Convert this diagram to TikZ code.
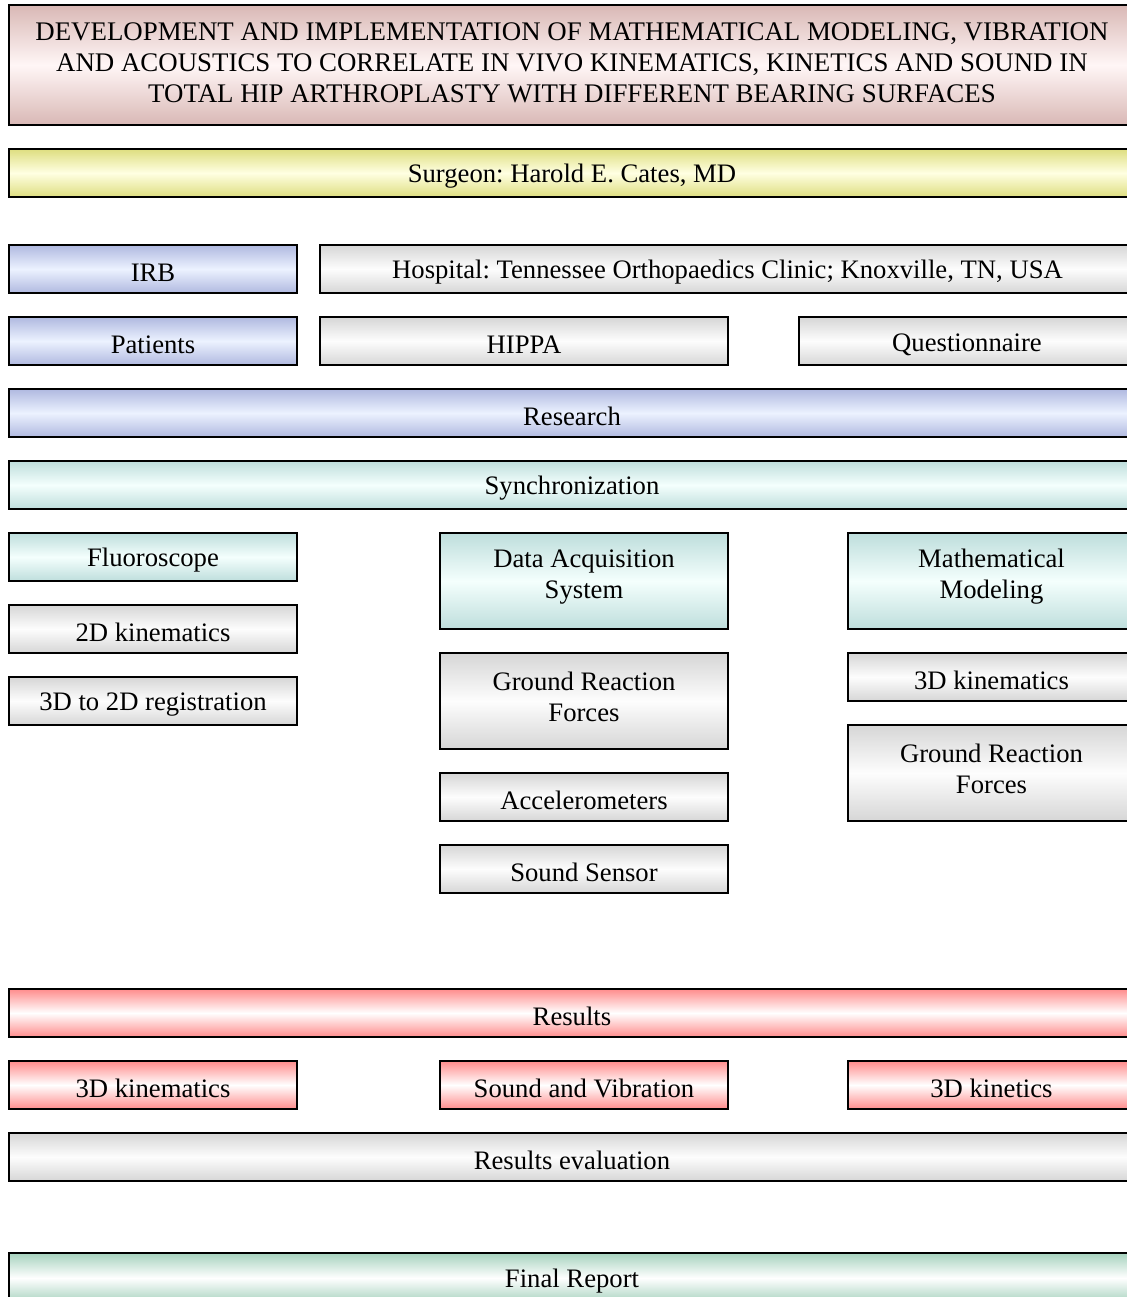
\documentclass[tikz,border=0pt]{standalone}
\usepackage{fontspec}
\setmainfont{Liberation Serif}
\frenchspacing
\definecolor{roseEdge}{RGB}{217,184,181}
\definecolor{roseMid}{RGB}{255,246,246}
\definecolor{yelEdge}{RGB}{222,222,128}
\definecolor{yelMid}{RGB}{255,255,226}
\definecolor{bluEdge}{RGB}{176,185,224}
\definecolor{bluMid}{RGB}{236,242,255}
\definecolor{gryEdge}{RGB}{214,214,214}
\definecolor{gryMid}{RGB}{253,253,253}
\definecolor{tealEdge}{RGB}{190,222,220}
\definecolor{tealMid}{RGB}{244,255,253}
\definecolor{redEdge}{RGB}{255,140,140}
\definecolor{redMid}{RGB}{255,255,255}
\definecolor{grnEdge}{RGB}{166,210,190}
\definecolor{grnMid}{RGB}{255,255,255}
\tikzset{
  box/.style={draw=black, line width=1.5pt, rectangle, inner sep=0pt,
    anchor=north west},
  txt/.style={inner sep=0pt, align=center, font=\fontsize{20}{23.25}\selectfont},
  rose/.style={box, top color=roseEdge, bottom color=roseEdge, middle color=roseMid},
  yel/.style={box, top color=yelEdge, bottom color=yelEdge, middle color=yelMid},
  blu/.style={box, top color=bluEdge, bottom color=bluEdge, middle color=bluMid},
  gry/.style={box, top color=gryEdge, bottom color=gryEdge, middle color=gryMid},
  teal/.style={box, top color=tealEdge, bottom color=tealEdge, middle color=tealMid},
  redb/.style={box, top color=redEdge, bottom color=redEdge, middle color=redMid},
  grn/.style={box, top color=grnEdge, bottom color=grnEdge, middle color=grnMid},
  one/.style={yshift=-2.6pt},
  two/.style={yshift=3pt},
  three/.style={yshift=1.5pt, font=\fontsize{20.15}{23.25}\selectfont},
}
% \pbox{name}{box style}{text style}{x1}{y1}{x2}{y2}{text}, corners in pixel units
\newcommand{\pbox}[8]{%
  \node[#2, minimum width={(#6-#4)*0.75pt}, minimum height={(#7-#5)*0.75pt}]
    (#1) at (#4,#5) {};
  \node[txt, #3] (#1-t) at (#1.center) {#8};}
\begin{document}
\begin{tikzpicture}[x=0.75pt, y=-0.75pt]
\useasboundingbox (0,0) rectangle (1127,1297);
\clip (0,0) rectangle (1127,1297);
\pbox{title}{rose}{three}{8}{4}{1134}{124}{DEVELOPMENT AND IMPLEMENTATION OF MATHEMATICAL MODELING, VIBRATION\\AND ACOUSTICS TO CORRELATE IN VIVO KINEMATICS, KINETICS AND SOUND IN\\TOTAL HIP ARTHROPLASTY WITH DIFFERENT BEARING SURFACES}
\pbox{surgeon}{yel}{one}{8}{148}{1134}{196}{Surgeon: Harold E. Cates, MD}
\pbox{irb}{blu}{one}{8}{244}{296}{292}{IRB}
\pbox{hospital}{gry}{one}{319}{244}{1134}{292}{Hospital: Tennessee Orthopaedics Clinic; Knoxville, TN, USA}
\pbox{patients}{blu}{one}{8}{316}{296}{364}{Patients}
\pbox{hippa}{gry}{one}{319}{316}{727}{364}{HIPPA}
\pbox{quest}{gry}{one}{798}{316}{1134}{364}{Questionnaire}
\pbox{research}{blu}{one}{8}{388}{1134}{436}{Research}
\pbox{sync}{teal}{one}{8}{460}{1134}{508}{Synchronization}
% left column
\pbox{fluoro}{teal}{one}{8}{532}{296}{580}{Fluoroscope}
\pbox{kin2d}{gry}{one}{8}{604}{296}{652}{2D kinematics}
\pbox{reg}{gry}{one}{8}{676}{296}{724}{3D to 2D registration}
% middle column
\pbox{daq}{teal}{two}{439}{532}{727}{628}{Data Acquisition\\System}
\pbox{grfmid}{gry}{two}{439}{652}{727}{748}{Ground Reaction\\Forces}
\pbox{accel}{gry}{one}{439}{772}{727}{820}{Accelerometers}
\pbox{sound}{gry}{one}{439}{844}{727}{892}{Sound Sensor}
% right column
\pbox{math}{teal}{two}{847}{532}{1134}{628}{Mathematical\\Modeling}
\pbox{kin3d}{gry}{one}{847}{652}{1134}{700}{3D kinematics}
\pbox{grfright}{gry}{two}{847}{724}{1134}{820}{Ground Reaction\\Forces}
% results
\pbox{results}{redb}{one}{8}{988}{1134}{1036}{Results}
\pbox{reskin}{redb}{one}{8}{1060}{296}{1108}{3D kinematics}
\pbox{ressv}{redb}{one}{439}{1060}{727}{1108}{Sound and Vibration}
\pbox{reskinet}{redb}{one}{847}{1060}{1134}{1108}{3D kinetics}
\pbox{eval}{gry}{one}{8}{1132}{1134}{1180}{Results evaluation}
\pbox{final}{grn}{one}{8}{1252}{1134}{1302}{Final Report}
\end{tikzpicture}
\end{document}
